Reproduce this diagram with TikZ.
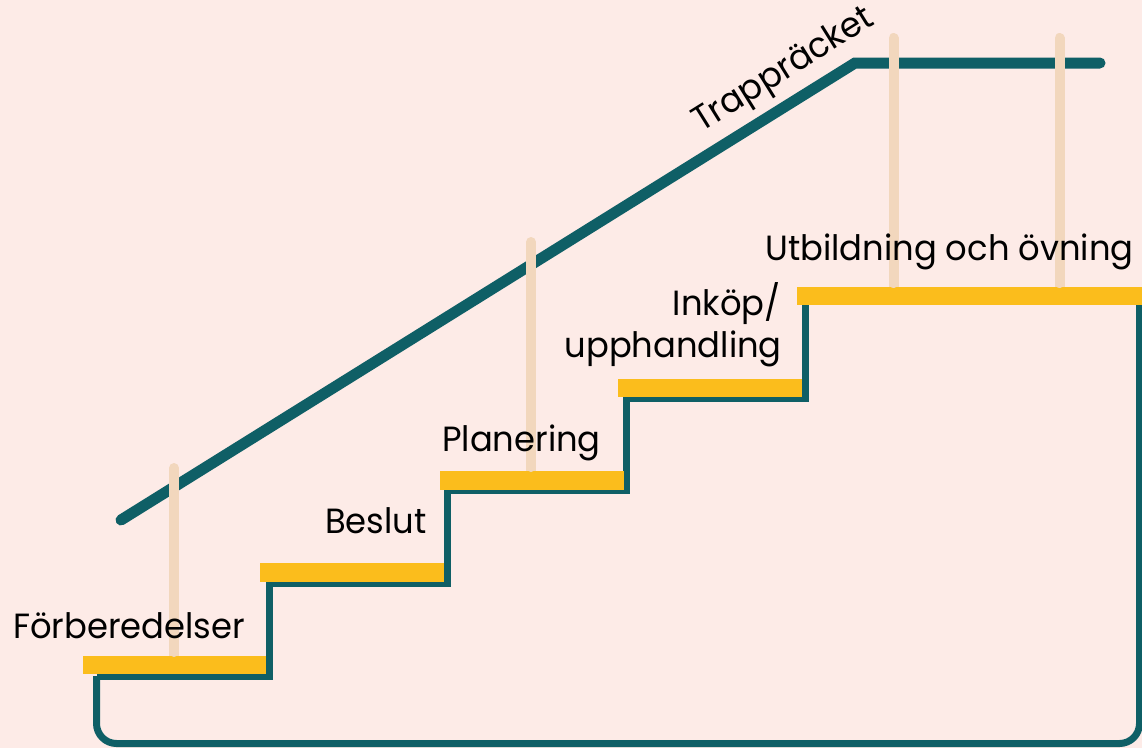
\documentclass[tikz,border=0pt]{standalone}
\usepackage{fontspec}
\setmainfont{Poppins}[FakeStretch=0.965]
\definecolor{bg}{HTML}{FDEBE7}
\definecolor{teal}{HTML}{0F5F66}
\definecolor{stepyellow}{HTML}{FBBD1C}
\definecolor{post}{HTML}{F2D7BD}
\begin{document}
\begin{tikzpicture}[x=1pt,y=-1pt,
  outline/.style={draw=teal,line width=7pt,line join=miter},
  rail/.style={draw=teal,line width=11pt,line cap=round,line join=miter},
  postline/.style={draw=post,line width=10pt,line cap=round},
  stepbar/.style={fill=stepyellow},
  lbl/.style={inner sep=0pt,font=\fontsize{35}{42}\selectfont,text=black}]
\fill[bg] (0,0) rectangle (1142,748);
\useasboundingbox (0,0) rectangle (1142,748);
% outline of the stair
\draw[outline,rounded corners=20pt] (1139.5,300) -- (1139.5,743.5) -- (96.5,743.5) -- (96.5,676);
\draw[outline] (96.5,676) -- (269.5,676) -- (269.5,583) -- (447.5,583) -- (447.5,490) -- (626.5,490) -- (626.5,398) -- (805.5,398) -- (805.5,300);
% steps
\fill[stepbar] (83,656) rectangle (266,674) coordinate (s1);
\fill[stepbar] (260,563) rectangle (444,582) coordinate (s2);
\fill[stepbar] (440,471) rectangle (624,490) coordinate (s3);
\fill[stepbar] (618,379) rectangle (802,397) coordinate (s4);
\fill[stepbar] (797,287) rectangle (1142,305) coordinate (s5);
% handrail
\coordinate (r1) at (121,520);
\coordinate (r2) at (855,63);
\coordinate (r3) at (1100,63);
\draw[rail] (r1) -- (r2) -- (r3);
% posts
\draw[postline] (174,468) -- (174,652);
\draw[postline] (531,242) -- (531,467);
\draw[postline] (893.5,38) -- (893.5,283);
\draw[postline] (1059.5,38) -- (1059.5,283);
\draw[post,line width=10pt] (174,650) -- (174,656);
\draw[post,line width=10pt] (531,465) -- (531,471);
\draw[post,line width=10pt] (893.5,280) -- (893.5,287);
\draw[post,line width=10pt] (1059.5,280) -- (1059.5,287);
% labels
\node[lbl,anchor=base west] (t1) at (13,638) {Förberedelser};
\node[lbl,anchor=base west] (t2) at (325,533) {Beslut};
\node[lbl,anchor=base west] (t3) at (442,451.5) {Planering};
\node[lbl,anchor=base east] (t4a) at (781,315) {Inköp/};
\node[lbl,anchor=base east] (t4b) at (782,357) {upphandling};
\node[lbl,anchor=base west] (t5) at (765,260) {Utbildning och övning};
\node[lbl,anchor=base west,rotate=32] (t6) at (701,133) {Trappräcket};
\end{tikzpicture}
\end{document}
